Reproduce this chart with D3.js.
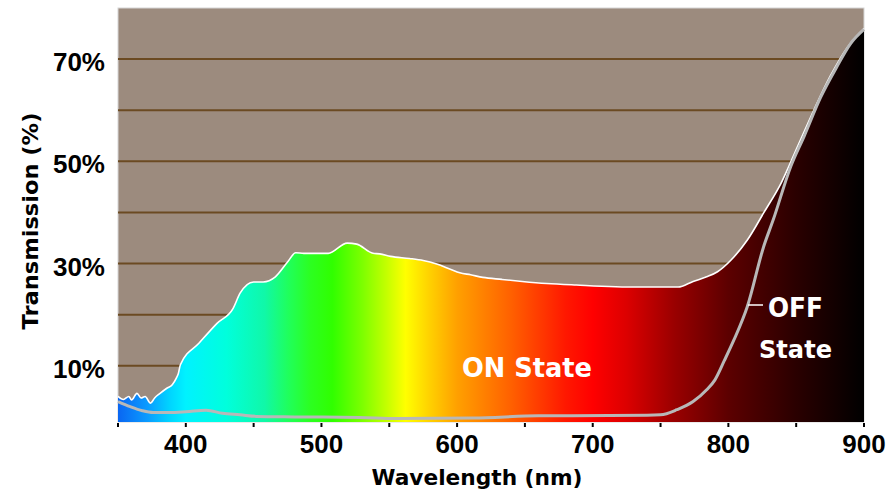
<!DOCTYPE html>
<html>
<head>
<meta charset="utf-8">
<script src="https://cdn.jsdelivr.net/npm/d3@7"></script>
<style>
  html, body { margin: 0; padding: 0; background: #fff; }
  svg { display: block; }
</style>
</head>
<body>
<svg id="chart" width="891" height="494"></svg>
<script>
// Transmission (%) of the ON state across the spectrum
const onWavelength = [350,354,358,360,364,367,370,374,377,381,386,390,393,394.5,396,410,423,435,440,450,457,466,475,481,487,505,519,526,538,543,551,565,575,585,595,602,610,619,633,648,666,688,733,763,774,784,792,802,814,826,839,851,863,875,888,900];
const onTransmission = [4.0,3.4,4.0,3.3,4.6,3.7,4.0,2.7,3.7,4.6,5.6,6.3,7.6,8.5,10.2,14.5,18.3,21.3,24.2,26.4,26.4,27.4,30.3,32.1,32.0,32.0,34.0,33.8,32.0,31.9,31.4,31.0,30.6,29.9,28.9,28.2,27.8,27.3,26.9,26.5,26.1,25.8,25.4,25.4,26.5,27.4,28.4,30.7,34.6,39.9,45.8,52.9,60.0,66.6,72.4,76.0];

// Transmission (%) of the OFF state
const offWavelength = [350,359,368,376,388,400,415,427,440,452,480,528,555,612,660,740,750,762,774,784,790,797,804,814,826,833,846,856,868,880,890,900];
const offTransmission = [3.0,2.0,1.2,0.85,0.85,1.0,1.3,0.7,0.4,0.1,0.0,-0.1,-0.3,-0.2,0.2,0.3,0.4,1.4,3.0,5.3,7.2,11.0,15.0,21.6,33.3,38.5,49.0,55.0,62.5,68.5,73.0,75.8];

// Axis ticks
const xTickMarks = [350,400,450,500,550,600,650,700,750,800,850,900];
const xTickLabels = [400,500,600,700,800,900];
const yGridValues = [10,20,30,40,50,60,70];
const yTickLabels = [10,30,50,70];

// Visible-spectrum colour ramp used to paint the ON area
const spectrumStops = [
  [350, "#0a66f2"], [372, "#0a9cff"], [388, "#00d4ff"], [400, "#00f2ff"],
  [430, "#00ffdc"], [458, "#10f8a8"], [476, "#20ff5a"], [492, "#2cff20"],
  [508, "#30ff00"], [530, "#7cff00"], [548, "#c4ff00"], [562, "#ffff00"],
  [580, "#ffd000"], [600, "#ffa000"], [640, "#ff6000"], [680, "#ff1800"],
  [700, "#ff0000"], [725, "#dc0000"], [760, "#9a0000"], [800, "#5c0000"],
  [850, "#2a0000"], [900, "#000000"]
];

const svg = d3.select("#chart");
const plotLeft = 118, plotRight = 864, plotTop = 8, plotBottom = 422;

const x = d3.scaleLinear().domain([350, 900]).range([plotLeft, plotRight]);
const y = d3.scaleLinear().domain([-1, 80]).range([plotBottom, plotTop]);

// plot background
svg.append("rect")
  .attr("x", plotLeft).attr("y", plotTop)
  .attr("width", plotRight - plotLeft).attr("height", plotBottom - plotTop)
  .attr("fill", "#9c8b7e")
  .attr("stroke", "#d6d6d6").attr("stroke-width", 1);

// horizontal gridlines
svg.append("g").selectAll("line")
  .data(yGridValues).join("line")
  .attr("x1", plotLeft).attr("x2", plotRight)
  .attr("y1", d => y(d)).attr("y2", d => y(d))
  .attr("stroke", "#6b4a22").attr("stroke-width", 2);

// spectrum gradient
const defs = svg.append("defs");
const grad = defs.append("linearGradient")
  .attr("id", "spectrum")
  .attr("gradientUnits", "userSpaceOnUse")
  .attr("x1", x(350)).attr("x2", x(900))
  .attr("y1", 0).attr("y2", 0);
grad.selectAll("stop").data(spectrumStops).join("stop")
  .attr("offset", d => (d[0] - 350) / 550)
  .attr("stop-color", d => d[1]);

const onData = onWavelength.map((w, i) => [w, onTransmission[i]]);
const offData = offWavelength.map((w, i) => [w, offTransmission[i]]);

// ON area
const area = d3.area()
  .x(d => x(d[0]))
  .y0(plotBottom)
  .y1(d => y(d[1]))
  .curve(d3.curveMonotoneX);
svg.append("path")
  .datum(onData)
  .attr("d", area)
  .attr("fill", "url(#spectrum)");

// ON outline
const line = d3.line().x(d => x(d[0])).y(d => y(d[1])).curve(d3.curveMonotoneX);
svg.append("path")
  .datum(onData)
  .attr("d", line)
  .attr("fill", "none")
  .attr("stroke", "#ffffff")
  .attr("stroke-width", 1.6);

// OFF curve
svg.append("path")
  .datum(offData)
  .attr("d", line)
  .attr("fill", "none")
  .attr("stroke", "#b8b8b8")
  .attr("stroke-width", 3);

// x tick marks
svg.append("g").selectAll("line")
  .data(xTickMarks).join("line")
  .attr("x1", d => x(d)).attr("x2", d => x(d))
  .attr("y1", plotBottom + 1).attr("y2", plotBottom + 5)
  .attr("stroke", "#000").attr("stroke-width", 2);

const numFont = "'Liberation Sans', Arial, sans-serif";
const titleFont = "'DejaVu Sans', Verdana, sans-serif";

// x tick labels
svg.append("g").selectAll("text")
  .data(xTickLabels).join("text")
  .attr("x", d => x(d)).attr("y", 453)
  .attr("text-anchor", "middle")
  .attr("font-family", numFont).attr("font-weight", "bold")
  .attr("font-size", 26).attr("fill", "#000")
  .text(d => d);

// y tick labels
svg.append("g").selectAll("text")
  .data(yTickLabels).join("text")
  .attr("x", 105).attr("y", d => y(d) + 12)
  .attr("text-anchor", "end")
  .attr("font-family", numFont).attr("font-weight", "bold")
  .attr("font-size", 26).attr("fill", "#000")
  .text(d => d + "%");

// axis titles
svg.append("text")
  .attr("x", 477).attr("y", 485)
  .attr("text-anchor", "middle")
  .attr("font-family", titleFont).attr("font-weight", "bold")
  .attr("font-size", 22).attr("fill", "#000")
  .attr("textLength", 211).attr("lengthAdjust", "spacingAndGlyphs")
  .text("Wavelength (nm)");

svg.append("text")
  .attr("transform", "translate(38,221) rotate(-90)")
  .attr("text-anchor", "middle")
  .attr("font-family", titleFont).attr("font-weight", "bold")
  .attr("font-size", 21).attr("fill", "#000")
  .attr("textLength", 217).attr("lengthAdjust", "spacingAndGlyphs")
  .text("Transmission (%)");

// state labels
svg.append("text")
  .attr("x", 462).attr("y", 377)
  .attr("font-family", titleFont).attr("font-weight", "bold")
  .attr("font-size", 26).attr("fill", "#fff")
  .attr("textLength", 130).attr("lengthAdjust", "spacingAndGlyphs")
  .text("ON State");

svg.append("line")
  .attr("x1", 748).attr("x2", 763)
  .attr("y1", 305).attr("y2", 305)
  .attr("stroke", "#fff").attr("stroke-width", 1.5);

svg.append("text")
  .attr("x", 768).attr("y", 317)
  .attr("font-family", titleFont).attr("font-weight", "bold")
  .attr("font-size", 26).attr("fill", "#fff")
  .attr("textLength", 55).attr("lengthAdjust", "spacingAndGlyphs")
  .text("OFF");

svg.append("text")
  .attr("x", 759).attr("y", 358)
  .attr("font-family", titleFont).attr("font-weight", "bold")
  .attr("font-size", 25).attr("fill", "#fff")
  .attr("textLength", 73).attr("lengthAdjust", "spacingAndGlyphs")
  .text("State");
</script>
</body>
</html>
